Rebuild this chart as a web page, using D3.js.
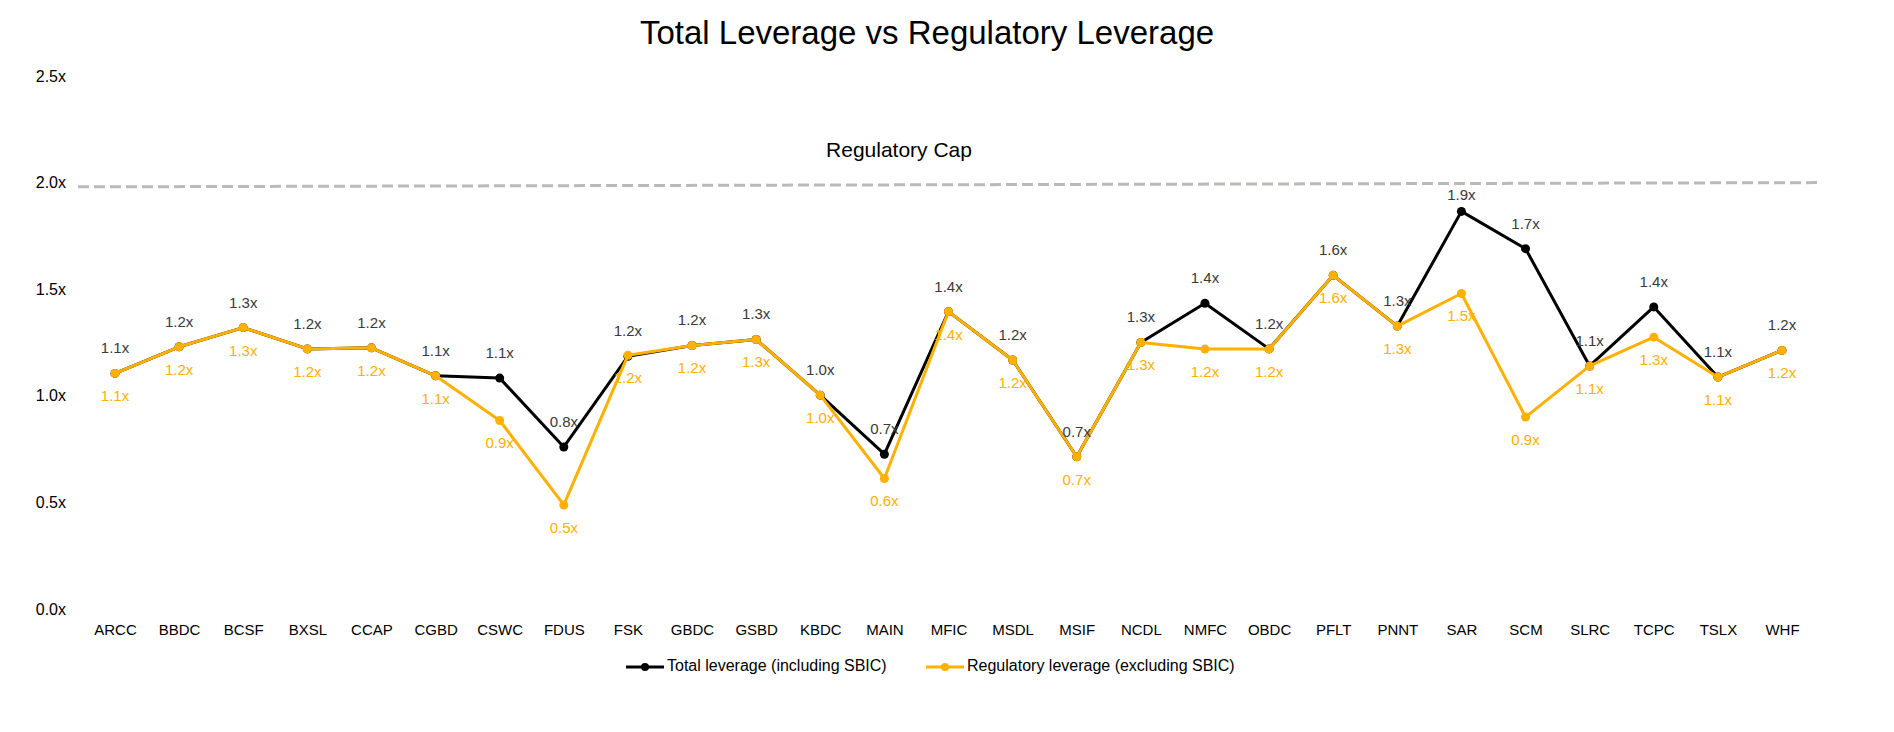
<!DOCTYPE html>
<html lang="en">
<head>
    <meta charset="UTF-8">
    <title>Total Leverage vs Regulatory Leverage</title>
    <script src="https://d3js.org/d3.v7.min.js"></script>
    <style>
        body { margin: 0; background: #fff; }
        text { font-family: "Liberation Sans", Arial, sans-serif; }
        .line { fill: none; stroke-width: 3px; stroke-linejoin: round; }
    </style>
</head>
<body>
    <svg width="1894" height="732"></svg>
    <script>
const tickers = ["ARCC", "BBDC", "BCSF", "BXSL", "CCAP", "CGBD", "CSWC", "FDUS", "FSK",
    "GBDC", "GSBD", "KBDC", "MAIN", "MFIC", "MSDL", "MSIF", "NCDL", "NMFC", "OBDC",
    "PFLT", "PNNT", "SAR", "SCM", "SLRC", "TCPC", "TSLX", "WHF"];

const totalLeverage = [1.105, 1.23, 1.32, 1.22, 1.225, 1.094, 1.083, 0.76, 1.185,
    1.236, 1.264, 1.003, 0.726, 1.395, 1.168, 0.714, 1.25, 1.434, 1.22,
    1.565, 1.327, 1.865, 1.69, 1.14, 1.417, 1.088, 1.213];

const regulatoryLeverage = [1.105, 1.23, 1.32, 1.22, 1.225, 1.094, 0.884, 0.488, 1.19,
    1.236, 1.264, 1.003, 0.612, 1.395, 1.168, 0.714, 1.25, 1.219, 1.219,
    1.565, 1.327, 1.48, 0.90, 1.14, 1.275, 1.088, 1.213];

const yTicks = [0, 0.5, 1.0, 1.5, 2.0, 2.5];
const regulatoryCap = [1.98, 2.0];   // dashed line, left end / right end

const svg = d3.select("svg");

const x = d3.scalePoint().domain(tickers).range([115, 1782]);
const y = d3.scaleLinear().domain([0, 2.5]).range([609, 76]);

const fmt = v => d3.format(".1f")(v) + "x";

// title
svg.append("text")
   .attr("x", 927).attr("y", 35)
   .attr("text-anchor", "middle").attr("dominant-baseline", "middle")
   .style("font-size", "33px").attr("fill", "#000")
   .text("Total Leverage vs Regulatory Leverage");

// y axis labels
const yAxis = d3.axisLeft(y).tickValues(yTicks).tickFormat(fmt).tickSize(0).tickPadding(0);
svg.append("g")
   .attr("transform", "translate(66,0)")
   .call(yAxis)
   .call(g => g.select(".domain").remove())
   .call(g => g.selectAll("text").style("font-size", "16px").attr("fill", "#000")
       .style("font-family", "Liberation Sans, Arial, sans-serif"));

// x axis labels
const xAxis = d3.axisBottom(x).tickSize(0).tickPadding(0);
svg.append("g")
   .attr("transform", "translate(0,624)")
   .call(xAxis)
   .call(g => g.select(".domain").remove())
   .call(g => g.selectAll("text").style("font-size", "15px").attr("fill", "#000")
       .style("font-family", "Liberation Sans, Arial, sans-serif"));

// regulatory cap
svg.append("line")
   .attr("x1", 78).attr("x2", 1822)
   .attr("y1", y(regulatoryCap[0])).attr("y2", y(regulatoryCap[1]))
   .attr("stroke", "#b9bbb7").attr("stroke-width", 3)
   .attr("stroke-dasharray", "11,5");

svg.append("text")
   .attr("x", 899).attr("y", 151)
   .attr("text-anchor", "middle").attr("dominant-baseline", "middle")
   .style("font-size", "21px").attr("fill", "#000")
   .text("Regulatory Cap");

const series = [
    { name: "Total leverage (including SBIC)", values: totalLeverage, color: "#000000", label: "#3a3a3a", dy: -24 },
    { name: "Regulatory leverage (excluding SBIC)", values: regulatoryLeverage, color: "#ffb000", label: "#ffb000", dy: 24 }
];

const line = d3.line().x((d, i) => x(tickers[i])).y(d => y(d));

series.forEach(s => {
    svg.append("path")
       .datum(s.values)
       .attr("class", "line")
       .attr("stroke", s.color)
       .attr("d", line);

    svg.append("g").selectAll("circle")
       .data(s.values)
       .join("circle")
       .attr("cx", (d, i) => x(tickers[i]))
       .attr("cy", d => y(d))
       .attr("r", 4.5)
       .attr("fill", s.color);
});

// labels above the points are kept clear of the cap line
const capY = y(regulatoryCap[1]) + 13;
series.forEach(s => {
    svg.append("g").selectAll("text")
       .data(s.values)
       .join("text")
       .attr("x", (d, i) => x(tickers[i]))
       .attr("y", d => Math.max(y(d) + s.dy, capY))
       .attr("text-anchor", "middle").attr("dominant-baseline", "middle")
       .style("font-size", "15px")
       .attr("fill", s.label)
       .text(fmt);
});

// legend
const legendPos = [626, 926];
series.forEach((s, i) => {
    const g = svg.append("g").attr("transform", `translate(${legendPos[i]},667)`);
    g.append("line").attr("x1", 0).attr("x2", 38).attr("y1", 0).attr("y2", 0)
     .attr("stroke", s.color).attr("stroke-width", 3);
    g.append("circle").attr("cx", 19).attr("cy", 0).attr("r", 4).attr("fill", s.color);
    g.append("text").attr("x", 41).attr("y", 0)
     .attr("dominant-baseline", "middle")
     .style("font-size", "16px").attr("fill", "#000")
     .text(s.name);
});
    </script>
</body>
</html>
